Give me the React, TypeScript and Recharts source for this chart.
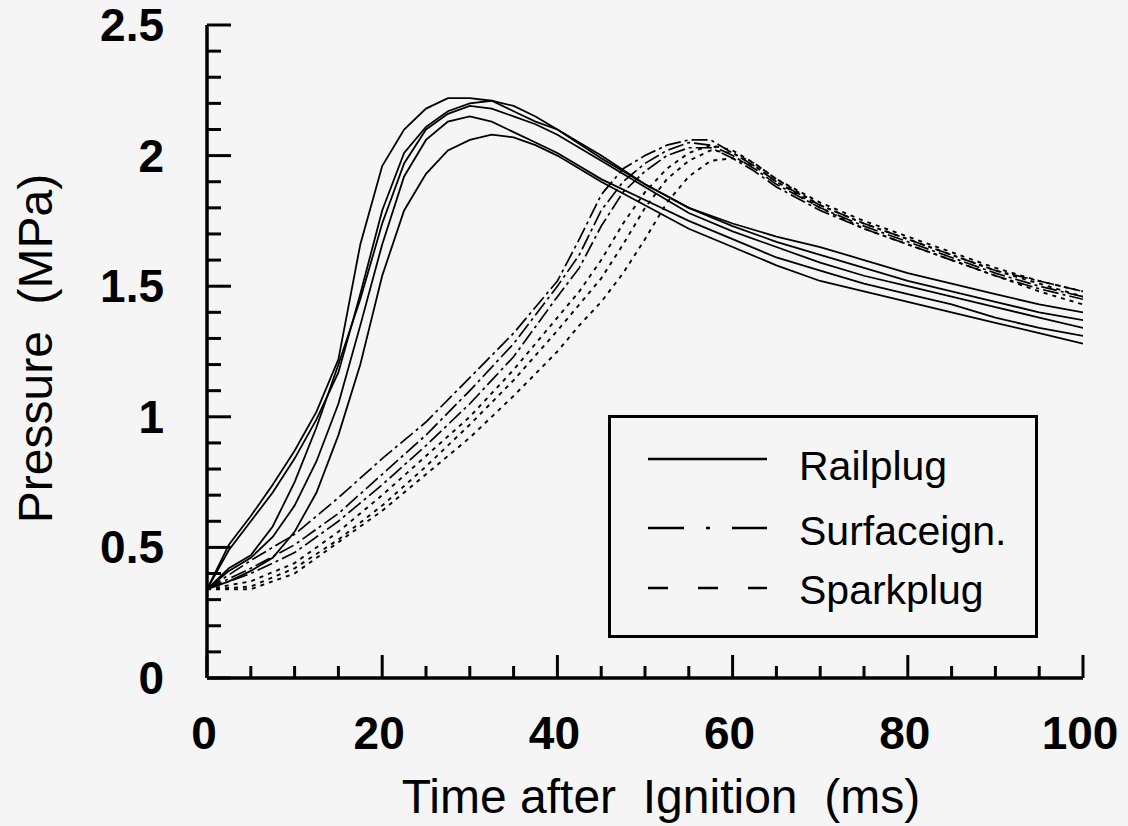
import React from 'react';
import { LineChart, Line, XAxis, YAxis, Legend } from 'recharts';

// ---- data ----
const railTime = [0, 2.5, 5, 7.5, 10, 12.5, 15, 17.5, 20, 22.5, 25, 27.5, 30, 32.5, 35, 37.5, 40, 45, 50, 55, 60, 65, 70, 75, 80, 85, 90, 95, 100];
const railplugRun1 = [0.34, 0.51, 0.62, 0.74, 0.87, 1.02, 1.22, 1.66, 1.96, 2.1, 2.18, 2.22, 2.22, 2.21, 2.17, 2.13, 2.1, 2.0, 1.89, 1.8, 1.74, 1.69, 1.65, 1.6, 1.55, 1.51, 1.47, 1.43, 1.4];
const railplugRun2 = [0.34, 0.49, 0.6, 0.71, 0.84, 0.99, 1.17, 1.47, 1.79, 2.01, 2.11, 2.17, 2.2, 2.21, 2.19, 2.15, 2.1, 1.99, 1.89, 1.8, 1.73, 1.67, 1.62, 1.57, 1.52, 1.48, 1.44, 1.4, 1.37];
const railplugRun3 = [0.34, 0.42, 0.47, 0.58, 0.75, 0.96, 1.2, 1.45, 1.74, 1.97, 2.1, 2.16, 2.19, 2.18, 2.15, 2.12, 2.08, 1.98, 1.88, 1.78, 1.71, 1.65, 1.59, 1.54, 1.5, 1.46, 1.42, 1.38, 1.34];
const railplugRun4 = [0.34, 0.41, 0.46, 0.54, 0.66, 0.83, 1.05, 1.35, 1.66, 1.92, 2.06, 2.13, 2.15, 2.13, 2.09, 2.05, 2.01, 1.91, 1.83, 1.75, 1.68, 1.61, 1.56, 1.51, 1.47, 1.43, 1.38, 1.34, 1.31];
const railplugRun5 = [0.34, 0.37, 0.41, 0.46, 0.56, 0.71, 0.93, 1.2, 1.54, 1.79, 1.93, 2.02, 2.06, 2.08, 2.07, 2.04, 2.0, 1.9, 1.81, 1.72, 1.65, 1.58, 1.52, 1.48, 1.44, 1.4, 1.36, 1.32, 1.28];

const slowTime = [0, 5, 10, 15, 20, 25, 30, 35, 40, 42.5, 45, 47.5, 50, 52.5, 55, 57.5, 60, 62.5, 65, 70, 75, 80, 85, 90, 95, 100];
const surfaceRun1 = [0.34, 0.45, 0.55, 0.69, 0.84, 0.98, 1.15, 1.32, 1.52, 1.68, 1.85, 1.95, 2.0, 2.04, 2.06, 2.06, 2.01, 1.96, 1.9, 1.81, 1.74, 1.68, 1.62, 1.56, 1.52, 1.48];
const surfaceRun2 = [0.34, 0.42, 0.51, 0.63, 0.78, 0.93, 1.1, 1.28, 1.5, 1.62, 1.79, 1.9, 1.97, 2.02, 2.05, 2.04, 2.0, 1.95, 1.89, 1.8, 1.73, 1.67, 1.61, 1.55, 1.5, 1.46];
const surfaceRun3 = [0.34, 0.4, 0.48, 0.6, 0.74, 0.89, 1.05, 1.23, 1.46, 1.57, 1.73, 1.86, 1.94, 2.0, 2.03, 2.03, 1.99, 1.94, 1.88, 1.79, 1.72, 1.66, 1.6, 1.54, 1.49, 1.45];
const sparkRun1 = [0.34, 0.37, 0.44, 0.56, 0.7, 0.85, 1.0, 1.18, 1.38, 1.48, 1.6, 1.74, 1.86, 1.95, 2.01, 2.04, 2.02, 1.97, 1.91, 1.82, 1.75, 1.69, 1.63, 1.57, 1.52, 1.48];
const sparkRun2 = [0.34, 0.35, 0.42, 0.53, 0.66, 0.81, 0.97, 1.14, 1.33, 1.43, 1.53, 1.66, 1.8, 1.91, 1.98, 2.02, 2.01, 1.97, 1.91, 1.81, 1.74, 1.68, 1.62, 1.56, 1.51, 1.46];
const sparkRun3 = [0.34, 0.34, 0.4, 0.52, 0.64, 0.78, 0.92, 1.08, 1.25, 1.35, 1.44, 1.55, 1.68, 1.82, 1.92, 1.98, 1.99, 1.96, 1.9, 1.8, 1.72, 1.66, 1.6, 1.54, 1.48, 1.43];

const seriesNames = ['Railplug', 'Surfaceign.', 'Sparkplug'];

const xTicks = [0, 5, 10, 15, 20, 25, 30, 35, 40, 45, 50, 55, 60, 65, 70, 75, 80, 85, 90, 95, 100];
const xMajorTicks = [0, 20, 40, 60, 80, 100];
const xTickLabels = ['0', '20', '40', '60', '80', '100'];
const yTicks = [0, 0.1, 0.2, 0.3, 0.4, 0.5, 0.6, 0.7, 0.8, 0.9, 1, 1.1, 1.2, 1.3, 1.4, 1.5, 1.6, 1.7, 1.8, 1.9, 2, 2.1, 2.2, 2.3, 2.4, 2.5];
const yMajorTicks = [0, 0.5, 1, 1.5, 2, 2.5];
const yTickLabels = ['0', '0.5', '1', '1.5', '2', '2.5'];

const xTitle = 'Time after  Ignition  (ms)';
const yTitle = 'Pressure  (MPa)';

// ---- helpers ----
const toPoints = (t: number[], p: number[]) => t.map((x, i) => ({ t: x, p: p[i] }));
const majorIndex = (majors: number[], v: number) => majors.findIndex((m) => Math.abs(m - v) < 1e-6);

const FONT = '"Liberation Sans", Arial, Helvetica, sans-serif';
const INK = '#000';
const AXIS_W = 3.5;
const TICK_W = 3;

const railRuns = [railplugRun1, railplugRun2, railplugRun3, railplugRun4, railplugRun5];
const surfaceRuns = [surfaceRun1, surfaceRun2, surfaceRun3];
const sparkRuns = [sparkRun1, sparkRun2, sparkRun3];

const styleFor = [
  { dash: undefined as string | undefined, width: 1.8 },
  { dash: '16 4 3 4', width: 1.7 },
  { dash: '4 5', width: 1.9 },
];

const legendDash = [undefined, '36 22 4 22', '20 30'];

const BottomTick = (props: any) => {
  const { x, y, payload } = props;
  const idx = majorIndex(xMajorTicks, payload.value);
  const len = idx >= 0 ? 23 : 12;
  return (
    <g>
      <line x1={x} y1={y} x2={x} y2={y - len} stroke={INK} strokeWidth={TICK_W} />
      {idx >= 0 && (
        <text x={x - 3} y={y + 71} textAnchor="middle" fontFamily={FONT} fontWeight="bold" fontSize={46} fill={INK}>
          {xTickLabels[idx]}
        </text>
      )}
    </g>
  );
};

const TopTick = (props: any) => {
  const { x, y, payload } = props;
  const idx = majorIndex(xMajorTicks, payload.value);
  const len = idx >= 0 ? 25 : 13;
  return <line x1={x} y1={y} x2={x} y2={y + len} stroke={INK} strokeWidth={TICK_W} />;
};

const LeftTick = (props: any) => {
  const { x, y, payload } = props;
  const idx = majorIndex(yMajorTicks, payload.value);
  const len = idx >= 0 ? 24 : 14;
  return (
    <g>
      <line x1={x} y1={y} x2={x + len} y2={y} stroke={INK} strokeWidth={TICK_W} />
      {idx >= 0 && (
        <text x={x - 43} y={y + 16} textAnchor="end" fontFamily={FONT} fontWeight="bold" fontSize={46} fill={INK}>
          {yTickLabels[idx]}
        </text>
      )}
    </g>
  );
};

const RightTick = (props: any) => {
  const { x, y, payload } = props;
  const idx = majorIndex(yMajorTicks, payload.value);
  const len = idx >= 0 ? 22 : 12;
  return <line x1={x} y1={y} x2={x - len} y2={y} stroke={INK} strokeWidth={TICK_W} />;
};

const XTitle = (props: any) => {
  const vb = props.viewBox || { x: 207, y: 678, width: 875, height: 148 };
  return (
    <text x={vb.x + vb.width / 2 + 16} y={vb.y + 135} textAnchor="middle" fontFamily={FONT} fontSize={48} fill={INK} style={{ whiteSpace: 'pre' }}>
      {xTitle}
    </text>
  );
};

const YTitle = (props: any) => {
  const vb = props.viewBox || { x: 0, y: 25, width: 207, height: 653 };
  const cx = 52;
  const cy = vb.y + vb.height / 2 - 3;
  return (
    <text x={cx} y={cy} transform={`rotate(-90 ${cx} ${cy})`} textAnchor="middle" fontFamily={FONT} fontSize={48} fill={INK} style={{ whiteSpace: 'pre' }}>
      {yTitle}
    </text>
  );
};

const LegendBox = () => {
  const lineY = [44, 113, 173];
  const textY = [65, 130, 189];
  return (
    <svg width={430} height={223} style={{ display: 'block' }}>
      <rect x={1.5} y={1.5} width={427} height={220} fill="none" stroke={INK} strokeWidth={3} />
      {seriesNames.map((name, i) => (
        <g key={name}>
          <line x1={40} y1={lineY[i]} x2={159} y2={lineY[i]} stroke={INK} strokeWidth={2.4} strokeDasharray={legendDash[i]} />
          <text x={191} y={textY[i]} fontFamily={FONT} fontSize={41} fill={INK}>
            {name}
          </text>
        </g>
      ))}
    </svg>
  );
};

export default function App() {
  const groups = [railRuns, surfaceRuns, sparkRuns];
  const times = [railTime, slowTime, slowTime];
  return (
    <div style={{ position: 'absolute', left: 0, top: 0, width: 1128, height: 826, background: '#f5f5f5' }}>
      <LineChart width={1128} height={826} margin={{ top: 25, right: 45, bottom: 0, left: 0 }}>
        <XAxis
          xAxisId="bottom"
          dataKey="t"
          type="number"
          domain={[0, 100]}
          allowDataOverflow
          ticks={xTicks}
          interval={0}
          tickSize={0}
          tickMargin={0}
          tickLine={false}
          tick={<BottomTick />}
          height={148}
          stroke={INK}
          strokeWidth={AXIS_W}
          axisLine={{ stroke: INK, strokeWidth: AXIS_W }}
          label={<XTitle />}
        />
        <XAxis
          xAxisId="top"
          orientation="top"
          dataKey="t"
          type="number"
          domain={[0, 100]}
          allowDataOverflow
          ticks={xTicks}
          interval={0}
          tickSize={0}
          tickMargin={0}
          tickLine={false}
          tick={<TopTick />}
          height={0}
          stroke={INK}
          strokeWidth={AXIS_W}
          axisLine={{ stroke: INK, strokeWidth: AXIS_W }}
        />
        <YAxis
          yAxisId="left"
          type="number"
          domain={[0, 2.5]}
          allowDataOverflow
          ticks={yTicks}
          interval={0}
          tickSize={0}
          tickMargin={0}
          tickLine={false}
          tick={<LeftTick />}
          width={207}
          stroke={INK}
          strokeWidth={AXIS_W}
          axisLine={{ stroke: INK, strokeWidth: AXIS_W }}
          label={<YTitle />}
        />
        <YAxis
          yAxisId="right"
          orientation="right"
          type="number"
          domain={[0, 2.5]}
          allowDataOverflow
          ticks={yTicks}
          interval={0}
          tickSize={0}
          tickMargin={0}
          tickLine={false}
          tick={<RightTick />}
          width={0}
          stroke={INK}
          strokeWidth={AXIS_W}
          axisLine={{ stroke: INK, strokeWidth: AXIS_W }}
        />
        {groups.map((runs, g) =>
          runs.map((run, r) => (
            <Line
              key={`${g}-${r}`}
              xAxisId="bottom"
              yAxisId="left"
              data={toPoints(times[g], run)}
              dataKey="p"
              name={seriesNames[g]}
              type="linear"
              dot={false}
              activeDot={false}
              stroke={INK}
              strokeWidth={styleFor[g].width}
              strokeDasharray={styleFor[g].dash}
              isAnimationActive={false}
            />
          ))
        )}
        <Line
          xAxisId="top"
          yAxisId="right"
          data={toPoints(railTime, railplugRun1)}
          dataKey="p"
          stroke="none"
          dot={false}
          activeDot={false}
          legendType="none"
          isAnimationActive={false}
        />
        <Legend
          layout="horizontal"
          verticalAlign="middle"
          align="center"
          content={<LegendBox />}
          wrapperStyle={{ left: 608, top: 415, width: 430, height: 223 }}
        />
      </LineChart>
    </div>
  );
}
